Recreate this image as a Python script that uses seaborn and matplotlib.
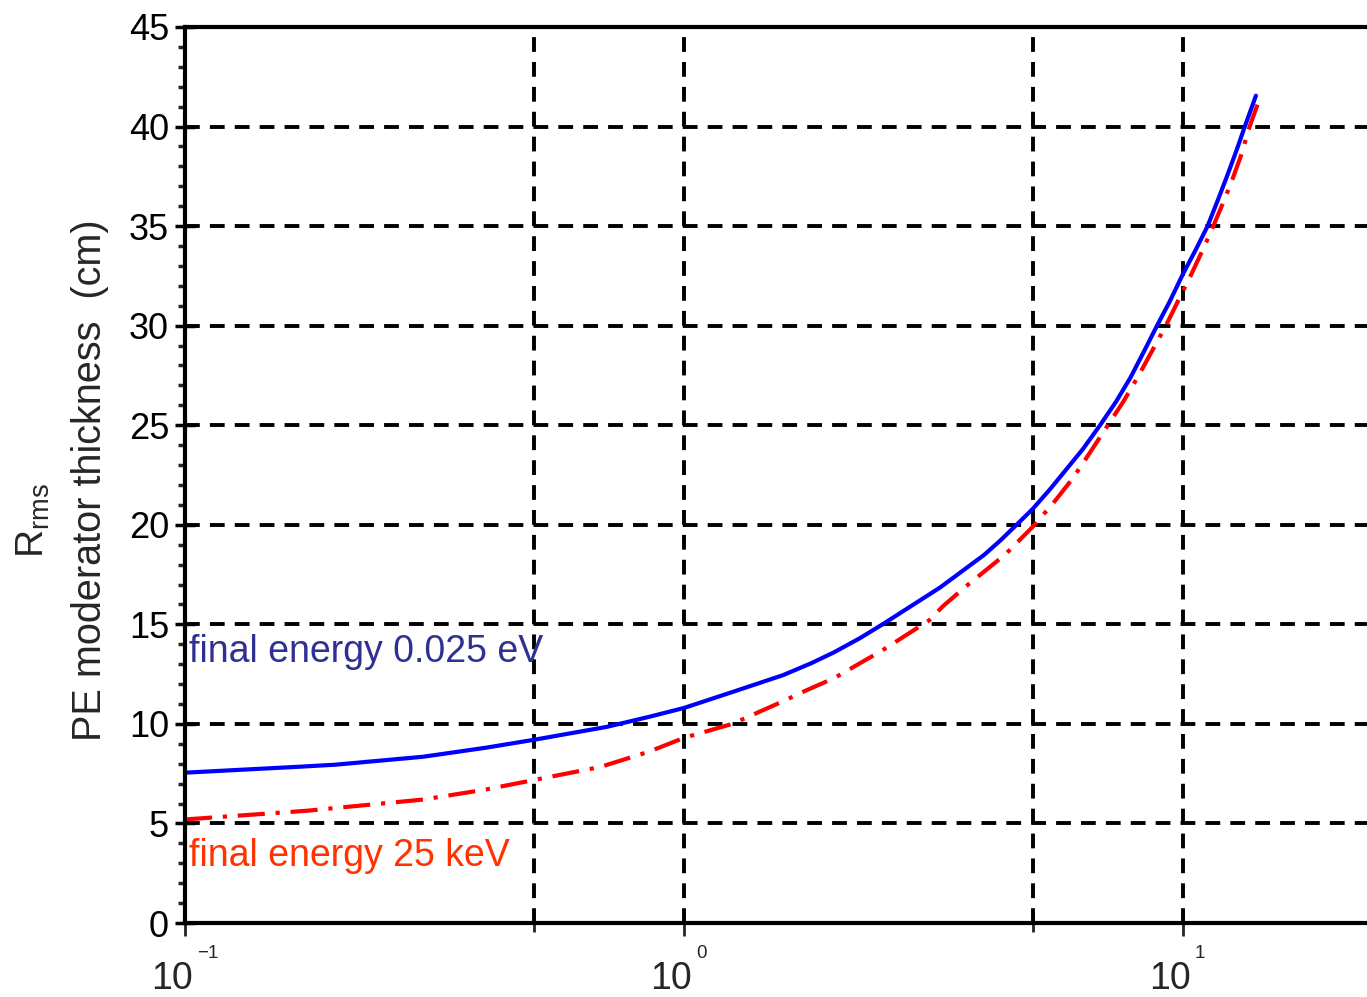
import numpy as np
import pandas as pd
import matplotlib
matplotlib.use("Agg")
import matplotlib.pyplot as plt
import matplotlib.transforms as mtransforms
from matplotlib.ticker import FixedLocator, NullFormatter, MultipleLocator
import seaborn as sns

# Moderator thickness vs. initial neutron energy (MeV)
energy_thermal = [0.1, 0.17, 0.2, 0.3, 0.4, 0.5, 0.7, 0.85, 1.0, 1.25, 1.58, 1.8,
                  2.0, 2.25, 2.5, 3.26, 4.0, 4.3, 4.64, 5.0, 5.4, 5.8, 6.3, 6.82,
                  7.35, 7.85, 8.35, 8.87, 9.4, 10.0, 10.6, 11.2, 11.7, 12.25, 12.8,
                  13.3, 14.0]
rrms_thermal = [7.55, 7.85, 7.95, 8.35, 8.8, 9.2, 9.85, 10.35, 10.8, 11.6, 12.45, 13.05,
                13.6, 14.3, 15.0, 16.85, 18.5, 19.2, 20.0, 20.8, 21.75, 22.7, 23.8, 25.0,
                26.2, 27.4, 28.7, 30.0, 31.2, 32.6, 33.8, 35.0, 36.2, 37.5, 38.8,
                40.0, 41.55]

energy_epi = [0.1, 0.176, 0.3, 0.4, 0.5, 0.68, 0.85, 1.0, 1.25, 1.6, 1.71, 2.0, 2.5,
              3.1, 3.3, 3.67, 4.4, 5.0, 5.5, 6.0, 6.5, 7.07, 7.6, 8.15, 8.7, 9.24,
              9.8, 10.4, 10.95, 11.5, 12.0, 12.5, 13.05, 13.6, 14.1]
rrms_epi = [5.2, 5.64, 6.2, 6.7, 7.18, 7.84, 8.6, 9.3, 10.0, 11.2, 11.55, 12.3, 13.7,
            15.2, 15.9, 16.9, 18.5, 19.9, 21.1, 22.3, 23.6, 25.0, 26.2, 27.5, 28.8, 30.0,
            31.3, 32.6, 33.8, 35.0, 36.1, 37.2, 38.5, 40.0, 41.1]

series_labels = ["final energy 0.025 eV", "final energy 25 keV"]
xtick_values = [0.1, 1, 10]
xtick_base = ["10", "10", "10"]
xtick_exp = ["\u22121", "0", "1"]
xtick_minor = [0.5, 5, 50]
ytick_values = list(range(0, 50, 5))

sns.set_style("ticks")
plt.rcParams["font.family"] = ["Liberation Sans", "DejaVu Sans"]
plt.rcParams["mathtext.fontset"] = "custom"
plt.rcParams["mathtext.rm"] = "Liberation Sans"
plt.rcParams["mathtext.it"] = "Liberation Sans"

W, H = 1367, 997
fig = plt.figure(figsize=(W / 100, H / 100), dpi=100)
ax = fig.add_axes([185 / W, 74 / H, 1497 / W, 896 / H])

df = pd.concat([
    pd.DataFrame({"energy": energy_thermal, "rrms": rrms_thermal, "series": series_labels[0]}),
    pd.DataFrame({"energy": energy_epi, "rrms": rrms_epi, "series": series_labels[1]}),
])

grid_kw = dict(color="black", linewidth=2.8, linestyle=(0, (3.8, 2.6)))

ax.set_xscale("log")
ax.set_xlim(0.1, 100)
ax.set_ylim(0, 45)
ax.xaxis.set_major_locator(FixedLocator([0.1, 1, 10, 100]))
ax.xaxis.set_minor_locator(FixedLocator(xtick_minor))
ax.xaxis.set_major_formatter(NullFormatter())
ax.xaxis.set_minor_formatter(NullFormatter())
ax.yaxis.set_major_locator(FixedLocator(ytick_values))
ax.yaxis.set_minor_locator(MultipleLocator(1))
ax.set_yticklabels([str(v) for v in ytick_values])

for v in [0.5, 1, 5, 10, 50]:
    ax.axvline(v, zorder=1, **grid_kw)
for v in ytick_values[1:-1]:
    ax.axhline(v, zorder=1, **grid_kw)

sub_thermal = df[df["series"] == series_labels[0]]
sub_epi = df[df["series"] == series_labels[1]]
sns.lineplot(data=sub_thermal, x="energy", y="rrms", ax=ax, color="#0000ff",
             linewidth=3.0, estimator=None, sort=False, legend=False, zorder=3)
sns.lineplot(data=sub_epi, x="energy", y="rrms", ax=ax, color="#ff0000",
             linewidth=3.0, estimator=None, sort=False, legend=False, zorder=3,
             linestyle=(0, (6.5, 2.6, 1.0, 2.6)))

ax.set_xlabel("")
ax.set_ylabel("")

for side in ["left", "bottom", "top"]:
    ax.spines[side].set_linewidth(3.0)
    ax.spines[side].set_color("black")
    ax.spines[side].set_zorder(4)
ax.spines["right"].set_visible(False)

ax.tick_params(axis="y", which="major", direction="inout", length=14, width=2.5,
               labelsize=26, pad=4.5, colors="black")
ax.tick_params(axis="y", which="minor", direction="out", length=5, width=2.5)
ax.tick_params(axis="x", which="major", direction="inout", length=18, width=2.0)
ax.tick_params(axis="x", which="minor", direction="inout", length=13, width=2.0)

# power-of-ten labels on the log axis
xt = ax.get_xaxis_transform()
for v, base, ex in zip(xtick_values, xtick_base, xtick_exp):
    tb = mtransforms.offset_copy(xt, fig=fig, x=8, y=-66, units="dots")
    ax.text(v, 0, base, transform=tb, ha="right", va="baseline", fontsize=27,
            clip_on=False)
    te = mtransforms.offset_copy(xt, fig=fig, x=12, y=-35, units="dots")
    ax.text(v, 0, ex, transform=te, ha="left", va="baseline", fontsize=13.5,
            clip_on=False)

# curve annotations
ax.text(0.102, 13.6, series_labels[0], color="#2e3192", fontsize=27,
        ha="left", va="center", zorder=5)
ax.text(0.102, 3.35, series_labels[1], color="#ff3300", fontsize=27,
        ha="left", va="center", zorder=5)

# y-axis title
fig.text(90 / W, 1 - 480 / H, "PE moderator thickness  (cm)", rotation=90,
         ha="center", va="center", fontsize=28.5)
fig.text(33 / W, 1 - 521 / H, r"R$_{\mathrm{rms}}$", rotation=90,
         ha="center", va="center", fontsize=28)

fig.savefig("out.png", dpi=100)
